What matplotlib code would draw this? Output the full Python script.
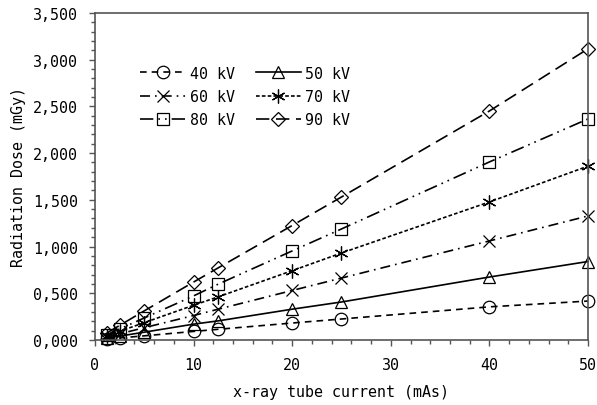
import numpy as np
import matplotlib.pyplot as plt
from matplotlib.ticker import MultipleLocator, FuncFormatter

# tube current (mAs)
mas = [1.25, 2.5, 5, 10, 12.5, 20, 25, 40, 50]

# radiation dose (mGy), one list per tube voltage
dose_40 = [11, 22, 45, 92, 115, 182, 225, 355, 417]
dose_50 = [21, 42, 84, 170, 205, 330, 407, 674, 840]
dose_60 = [33, 66, 132, 262, 330, 530, 663, 1060, 1327]
dose_70 = [46, 93, 186, 372, 462, 742, 931, 1477, 1860]
dose_80 = [59, 118, 236, 472, 598, 953, 1188, 1905, 2365]
dose_90 = [78, 156, 312, 620, 772, 1225, 1530, 2450, 3115]

labels = ["40 kV", "50 kV", "60 kV", "70 kV", "80 kV", "90 kV"]

plt.rcParams['font.family'] = ['DejaVu Sans Mono']
plt.rcParams['font.size'] = 10.8

fig = plt.figure(figsize=(5.97, 4.06), dpi=100)
ax = fig.add_axes([0.159, 0.160, 0.826, 0.806])

styles = [
    ("o", (0, (4, 3)), 9),
    ("^", "-", 8.5),
    ("x", (0, (6, 3, 1, 3)), 8.5),
    ((6, 2, 0), (0, (2.2, 1.3)), 10),
    ("s", (0, (8, 3, 1, 3, 1, 3)), 8.5),
    ("D", (0, (8, 4)), 7),
]
series = [dose_40, dose_50, dose_60, dose_70, dose_80, dose_90]

handles = []
for vals, (mk, ls, ms), lab in zip(series, styles, labels):
    h, = ax.plot(mas, vals, color="black", linestyle=ls, linewidth=1.2,
                 marker=mk, markersize=ms,
                 markerfacecolor="none", markeredgecolor="black",
                 markeredgewidth=0.9, label=lab, clip_on=False)
    handles.append(h)

ax.set_xlim(0, 50)
ax.set_ylim(0, 3500)
ax.xaxis.set_major_locator(MultipleLocator(10))
ax.xaxis.set_minor_locator(MultipleLocator(2))
ax.yaxis.set_major_locator(MultipleLocator(500))
ax.yaxis.set_minor_locator(MultipleLocator(100))
ax.yaxis.set_major_formatter(FuncFormatter(lambda v, p: format(int(v), "05,")))
ax.tick_params(which="major", direction="out", length=4, width=1, color="#555555")
ax.tick_params(which="minor", direction="out", length=3, width=1, color="#555555")
ax.tick_params(axis="y", which="major", pad=8)
ax.tick_params(axis="x", which="major", pad=8)
for s in ax.spines.values():
    s.set_color("#555555")
    s.set_linewidth(1.2)

ax.set_xlabel("x-ray tube current (mAs)", labelpad=9)
ax.set_ylabel("Radiation Dose (mGy)", labelpad=5)

order = [0, 2, 4, 1, 3, 5]
ax.legend([handles[i] for i in order], [labels[i] for i in order], ncol=2,
          frameon=False, handlelength=3.0, columnspacing=1.4,
          handletextpad=0.3, labelspacing=0.55,
          loc="upper left", bbox_to_anchor=(0.065, 0.88))

plt.savefig("out.png", dpi=100)
